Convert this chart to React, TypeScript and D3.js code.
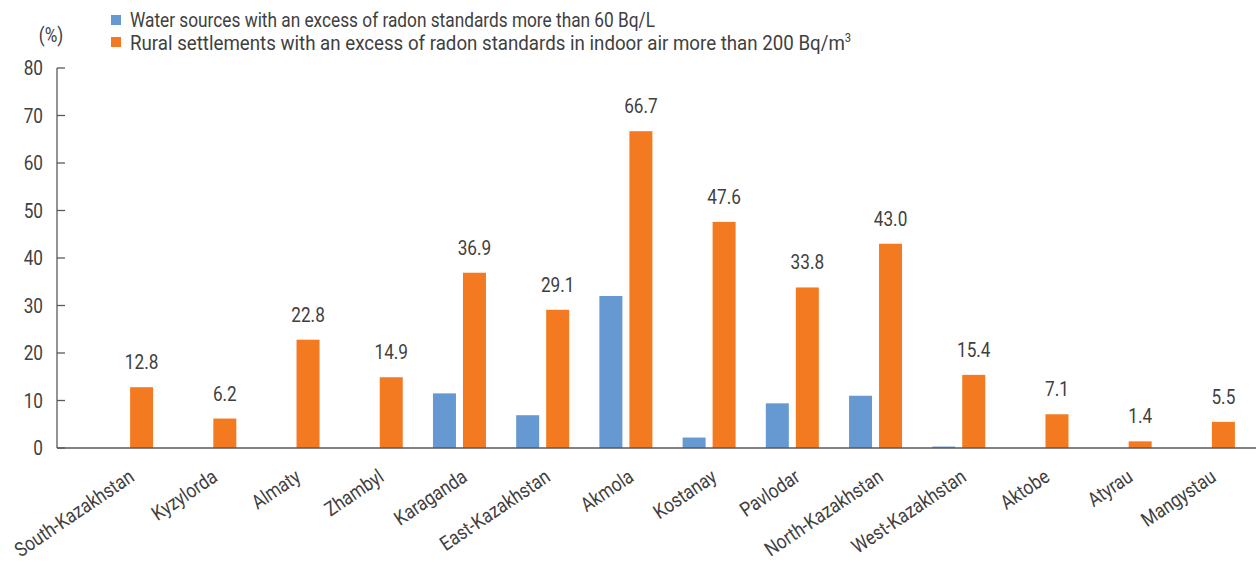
import React from "react";
import * as d3 from "d3";

const categories = [
  "South-Kazakhstan", "Kyzylorda", "Almaty", "Zhambyl", "Karaganda", "East-Kazakhstan",
  "Akmola", "Kostanay", "Pavlodar", "North-Kazakhstan", "West-Kazakhstan", "Aktobe", "Atyrau", "Mangystau",
];
const waterValues = [0, 0, 0, 0, 11.5, 6.9, 32.0, 2.2, 9.4, 11.0, 0.3, 0, 0, 0];
const ruralValues = [12.8, 6.2, 22.8, 14.9, 36.9, 29.1, 66.7, 47.6, 33.8, 43.0, 15.4, 7.1, 1.4, 5.5];
const yTicks = [0, 10, 20, 30, 40, 50, 60, 70, 80];
const legendLabels = [
  "Water sources with an excess of radon standards more than 60 Bq/L",
  "Rural settlements with an excess of radon standards in indoor air more than 200 Bq/m",
];

const W = 1258, H = 562;
const FONT = "Roboto, 'DejaVu Sans Condensed', sans-serif";
const BLUE = "#6699d1";
const ORANGE = "#f47a21";
const AXIS = "#595959";
const TEXT = "#404040";
const FS = 20;
const SX = 0.86;

function CText({ x, y, rotate = 0, anchor = "start", sx = SX, children }: any) {
  return (
    <g transform={`translate(${x},${y}) rotate(${rotate}) scale(${sx},1)`}>
      <text x={0} y={0} fontSize={FS} fill={TEXT} textAnchor={anchor}>{children}</text>
    </g>
  );
}

export default function App() {
  const x = d3.scaleBand<string>().domain(categories).range([85, 1250]).paddingInner(0).paddingOuter(0);
  const y = d3.scaleLinear().domain([0, 80]).range([448, 68]);
  const barW = 23, gap = 7;
  const axisX = 57;

  return (
    <svg width={W} height={H} style={{ position: "absolute", left: 0, top: 0 }} fontFamily={FONT}>
      {/* legend */}
      <rect x={111} y={15} width={10} height={10} fill={BLUE} />
      <text x={130} y={27} fontSize={FS} fill={TEXT} textLength={525} lengthAdjust="spacingAndGlyphs">
        {legendLabels[0]}
      </text>
      <rect x={111} y={37} width={10} height={10} fill={ORANGE} />
      <CText x={130} y={50} sx={0.935}>
        {legendLabels[1]}
        <tspan fontSize={12} dy={-8}>3</tspan>
      </CText>
      <CText x={51} y={42} anchor="middle">(%)</CText>

      {/* y axis */}
      <line x1={axisX} x2={axisX} y1={y(80)} y2={y(0)} stroke={AXIS} strokeWidth={1.3} />
      {yTicks.map((t) => (
        <g key={t}>
          <line x1={axisX} x2={axisX + 8} y1={y(t)} y2={y(t)} stroke={AXIS} strokeWidth={1.3} />
          <CText x={43} y={y(t) + 7} anchor="end">{t}</CText>
        </g>
      ))}

      {/* bars */}
      {categories.map((c, i) => {
        const cx = (x(c) as number) + x.bandwidth() / 2;
        const bx = cx - gap / 2 - barW;
        const ox = cx + gap / 2;
        return (
          <g key={c}>
            {waterValues[i] > 0 && (
              <rect x={bx} y={y(waterValues[i])} width={barW} height={y(0) - y(waterValues[i])} fill={BLUE} />
            )}
            <rect x={ox} y={y(ruralValues[i])} width={barW} height={y(0) - y(ruralValues[i])} fill={ORANGE} />
            <CText x={ox + barW / 2} y={y(ruralValues[i]) - 18} anchor="middle">
              {ruralValues[i].toFixed(1)}
            </CText>
            <CText x={cx + 9} y={480} rotate={-34} anchor="end">{c}</CText>
          </g>
        );
      })}

      {/* x axis */}
      <line x1={axisX} x2={1256} y1={y(0)} y2={y(0)} stroke={AXIS} strokeWidth={1.5} />
    </svg>
  );
}
